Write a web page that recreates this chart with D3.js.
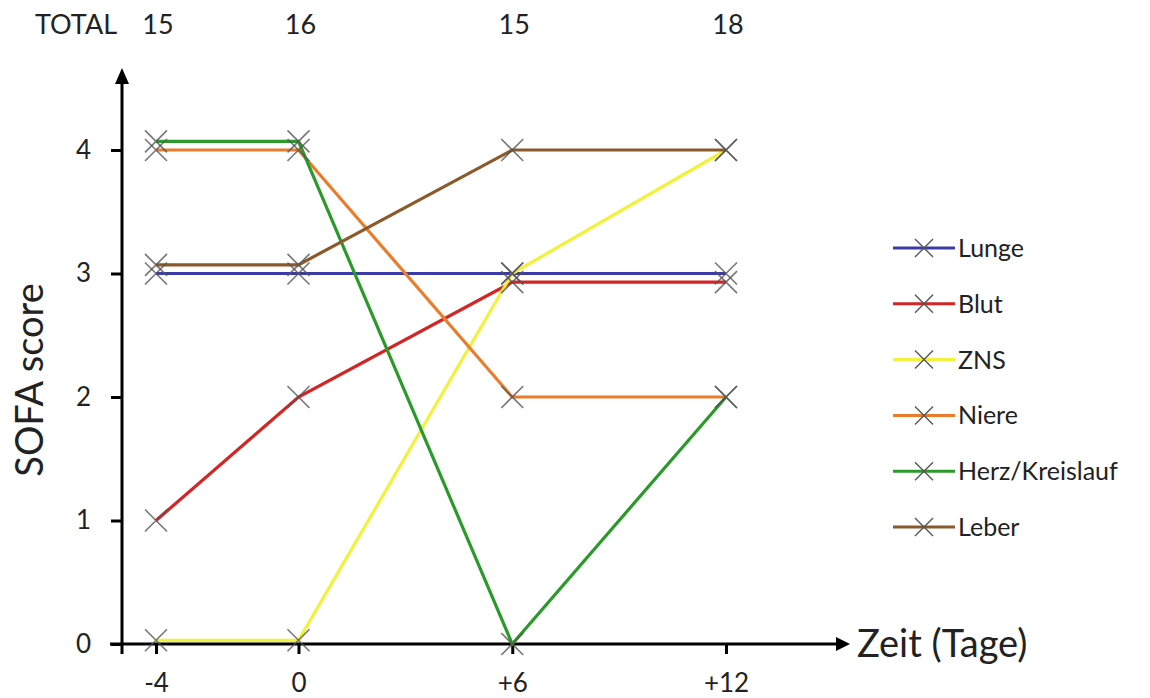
<!DOCTYPE html>
<html><head><meta charset="utf-8">
<script src="https://cdn.jsdelivr.net/npm/d3@7"></script>
<style>body{margin:0;background:#fff}svg{display:block}text{font-family:Lato,"Open Sans",sans-serif;fill:#222}</style>
</head><body><svg id="c" width="1150" height="698"></svg>
<script>
const days = [-4, 0, 6, 12];
const dayLabels = ["-4", "0", "+6", "+12"];
const totals = ["15", "16", "15", "18"];
const yTicks = [0, 1, 2, 3, 4];
const seriesNames = ["Lunge", "Blut", "ZNS", "Niere", "Herz/Kreislauf", "Leber"];
const seriesColors = ["#3c3ca8", "#d42424", "#f2f23c", "#ea7c2c", "#2a9a2a", "#8b5a2b"];
const lunge = [3, 3, 3, 3];
const blut = [1, 2, 2.93, 2.93];
const zns = [0.03, 0.03, 3, 4];
const niere = [4, 4, 2, 2];
const herz = [4.07, 4.07, 0, 2];
const leber = [3.07, 3.07, 4, 4];
const seriesValues = [lunge, blut, zns, niere, herz, leber];

const svg = d3.select("#c");
const x = d3.scaleLinear().domain([-4, 12]).range([156, 726]);
const y = d3.scaleLinear().domain([0, 4]).range([644, 150]);
const axisX0 = 122;
const FONT = "Lato,'Open Sans',sans-serif";

// x axis
const gx = svg.append("g").attr("transform", `translate(0,${y(0)})`)
  .call(d3.axisBottom(x).tickValues(days).tickSize(10).tickFormat((d, i) => dayLabels[i]));
gx.select(".domain").remove();
gx.selectAll(".tick line").attr("stroke", "#000").attr("stroke-width", 3);
gx.selectAll(".tick text").attr("font-size", 26).attr("y", 48).attr("dy", 0).attr("fill", "#222")
  .style("font-family", FONT);
svg.append("line").attr("x1", 110).attr("x2", 840).attr("y1", y(0)).attr("y2", y(0))
  .attr("stroke", "#000").attr("stroke-width", 3);
svg.append("path").attr("d", `M836,${y(0) - 7}L850,${y(0)}L836,${y(0) + 7}Z`).attr("fill", "#000");
svg.append("text").attr("x", 857).attr("y", y(0) + 13).attr("font-size", 38).text("Zeit (Tage)");

// y axis
const gy = svg.append("g").attr("transform", `translate(${axisX0},0)`)
  .call(d3.axisLeft(y).tickValues(yTicks).tickSize(11).tickFormat(d3.format("d")));
gy.select(".domain").remove();
gy.selectAll(".tick line").attr("stroke", "#000").attr("stroke-width", 3);
gy.selectAll(".tick text").attr("font-size", 26).attr("x", -31).attr("fill", "#222")
  .style("font-family", FONT);
svg.append("line").attr("x1", axisX0).attr("x2", axisX0).attr("y1", 654).attr("y2", 80)
  .attr("stroke", "#000").attr("stroke-width", 3);
svg.append("path").attr("d", `M${axisX0 - 7},84L${axisX0},68L${axisX0 + 7},84Z`).attr("fill", "#000");
svg.append("text").attr("transform", `translate(43,380) rotate(-90)`).attr("text-anchor", "middle")
  .attr("font-size", 38).text("SOFA score");

// totals
svg.append("text").attr("x", 35).attr("y", 34).attr("font-size", 27).text("TOTAL");
svg.selectAll(".tot").data(totals).join("text").attr("class", "tot")
  .attr("x", (d, i) => x(days[i]) + 2).attr("y", 34).attr("text-anchor", "middle").attr("font-size", 27).text(d => d);

// lines
const line = d3.line().x((d, i) => x(days[i])).y(d => y(d));
const marker = (g, cx, cy) => {
  const s = 11;
  g.append("path").attr("d", `M${cx - s},${cy - s}L${cx + s},${cy + s}M${cx - s},${cy + s}L${cx + s},${cy - s}`)
    .attr("stroke", "#555").attr("stroke-width", 1.6).attr("stroke-opacity", 0.8).attr("fill", "none");
};
seriesValues.forEach((vals, si) => {
  svg.append("path").datum(vals).attr("d", line).attr("fill", "none")
    .attr("stroke", seriesColors[si]).attr("stroke-width", 3.2);
});
const gm = svg.append("g");
seriesValues.forEach(vals => vals.forEach((v, i) => marker(gm, x(days[i]), y(v))));

// legend
const lg = svg.append("g");
seriesNames.forEach((n, i) => {
  const ly = 248 + i * 55.8;
  lg.append("line").attr("x1", 893).attr("x2", 955).attr("y1", ly).attr("y2", ly)
    .attr("stroke", seriesColors[i]).attr("stroke-width", 3);
  const s = 9;
  lg.append("path").attr("d", `M${924 - s},${ly - s}L${924 + s},${ly + s}M${924 - s},${ly + s}L${924 + s},${ly - s}`)
    .attr("stroke", "#555").attr("stroke-width", 1.4).attr("fill", "none");
  lg.append("text").attr("x", 958).attr("y", ly + 9).attr("font-size", 25).text(n);
});
</script></body></html>
